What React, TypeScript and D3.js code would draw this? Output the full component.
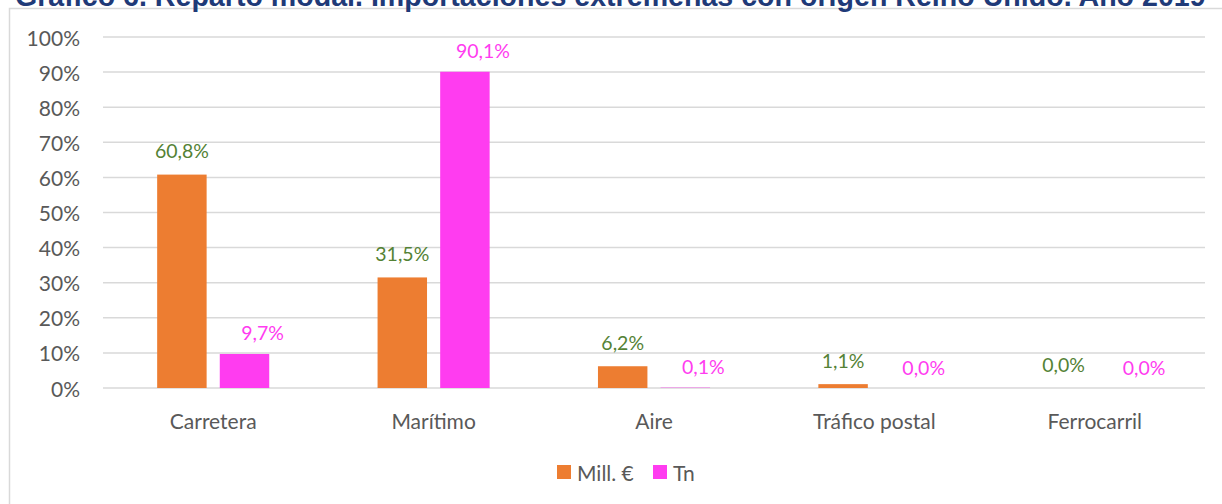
import { scaleBand, scaleLinear } from "d3";

// chart data
const categories = ["Carretera", "Marítimo", "Aire", "Tráfico postal", "Ferrocarril"];
const series = ["Mill. €", "Tn"];
const millValues = [60.8, 31.5, 6.2, 1.1, 0.0];
const tnValues = [9.7, 90.1, 0.1, 0.0, 0.0];
const yTicks = [0, 10, 20, 30, 40, 50, 60, 70, 80, 90, 100];
const title = "Gráfico 6. Reparto modal. Importaciones extremeñas con origen Reino Unido. Año 2019";

const colors = { "Mill. €": "#ED7D31", Tn: "#FF3CF0" };
const labelColors = { "Mill. €": "#548235", Tn: "#FF3CF0" };

const W = 1222;
const H = 504;
const font = "Lato, 'Open Sans', sans-serif";

const fmt = (v: number) => v.toFixed(1).replace(".", ",") + "%";

export default function App() {
  const x0 = scaleBand().domain(categories).range([103, 1205]);
  const x1 = scaleBand()
    .domain(series)
    .range([0, x0.bandwidth()])
    .paddingInner(0.21)
    .paddingOuter(0.865);
  const y = scaleLinear().domain([0, 100]).range([388, 37]);

  const rows = categories.map((c, i) => ({
    cat: c,
    values: [
      { key: "Mill. €", value: millValues[i] },
      { key: "Tn", value: tnValues[i] },
    ],
  }));

  return (
    <svg
      width={W}
      height={H}
      style={{ position: "fixed", left: 0, top: 0, background: "#fff" }}
      fontFamily={font}
    >
      {/* frame */}
      <path d={`M9.5,${H} V8.5 H${W}`} fill="none" stroke="#d9d9d9" strokeWidth={1.5} />

      {/* title, cut off at the top as in the source */}
      <text
        x={15}
        y={6}
        fontFamily="'Liberation Sans', Arial, sans-serif"
        fontWeight="bold"
        fontSize={28.6}
        fill="#1F3A78"
      >
        {title}
      </text>

      {/* gridlines + y ticks */}
      {yTicks.map((t) => (
        <g key={t}>
          <line x1={103} x2={1205} y1={y(t)} y2={y(t)} stroke="#d9d9d9" strokeWidth={1.5} />
          <text
            x={80}
            y={y(t)}
            textAnchor="end"
            dominantBaseline="central"
            fontSize={21}
            fill="#595959"
          >
            {t}%
          </text>
        </g>
      ))}

      {/* bars */}
      {rows.map((r) => (
        <g key={r.cat} transform={`translate(${x0(r.cat)},0)`}>
          {r.values.map((d) => (
            <rect
              key={d.key}
              x={x1(d.key)}
              y={y(d.value)}
              width={x1.bandwidth()}
              height={y(0) - y(d.value)}
              fill={colors[d.key]}
            />
          ))}
          {r.values.map((d) => {
            const cx = (x1(d.key) as number) + x1.bandwidth() / 2;
            const isTn = d.key === "Tn";
            return (
              <text
                key={d.key + "l"}
                x={cx + (isTn ? 18 : 0)}
                y={y(d.value) - (isTn ? 21 : 24)}
                textAnchor="middle"
                dominantBaseline="central"
                fontSize={19.5}
                fill={labelColors[d.key]}
              >
                {fmt(d.value)}
              </text>
            );
          })}
          <text
            x={x0.bandwidth() / 2}
            y={420}
            textAnchor="middle"
            dominantBaseline="central"
            fontSize={21}
            fill="#595959"
          >
            {r.cat}
          </text>
        </g>
      ))}

      {/* legend */}
      <g transform="translate(557,465)">
        <rect x={0} y={0} width={14} height={14} fill={colors["Mill. €"]} />
        <text x={20} y={7} dominantBaseline="central" fontSize={21} fill="#595959">
          {series[0]}
        </text>
        <rect x={96} y={0} width={14} height={14} fill={colors.Tn} />
        <text x={116} y={7} dominantBaseline="central" fontSize={21} fill="#595959">
          {series[1]}
        </text>
      </g>
    </svg>
  );
}
